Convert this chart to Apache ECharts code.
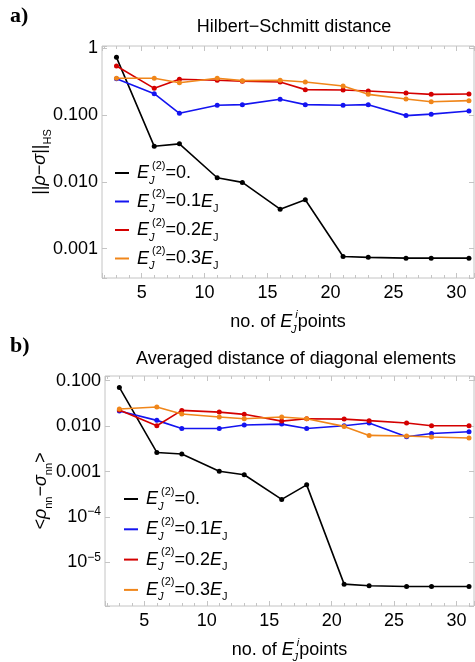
<!DOCTYPE html>
<html>
<head>
<meta charset="utf-8">
<script src="https://cdn.jsdelivr.net/npm/echarts@6/dist/echarts.min.js"></script>
<style>
  html, body { margin: 0; padding: 0; background: #fff; }
  #chart { width: 475px; height: 662px; }
</style>
</head>
<body>
<div id="chart"></div>
<script>
// number of E_J^i points
var xs = [3, 6, 8, 11, 13, 16, 18, 21, 23, 26, 28, 31];

// a) Hilbert-Schmitt distance
var hs0 = [0.73, 0.034, 0.037, 0.0115, 0.0098, 0.0039, 0.0054, 0.00076, 0.00074, 0.00072, 0.00072, 0.00072];
var hs1 = [0.35, 0.209, 0.106, 0.14, 0.143, 0.172, 0.143, 0.14, 0.143, 0.098, 0.103, 0.115];
var hs2 = [0.543, 0.251, 0.343, 0.331, 0.32, 0.313, 0.24, 0.237, 0.229, 0.214, 0.204, 0.206];
var hs3 = [0.355, 0.355, 0.305, 0.355, 0.327, 0.331, 0.313, 0.272, 0.204, 0.174, 0.158, 0.164];

// b) averaged distance of diagonal elements
var diag0 = [0.071, 0.00264, 0.00243, 0.00102, 0.00085, 0.000244, 0.00051, 3.33e-6, 3.06e-6, 2.95e-6, 2.95e-6, 2.95e-6];
var diag1 = [0.0215, 0.0134, 0.0089, 0.0089, 0.0106, 0.0111, 0.0089, 0.0102, 0.0117, 0.00585, 0.0069, 0.00753];
var diag2 = [0.0226, 0.0102, 0.0222, 0.0204, 0.0182, 0.0129, 0.0146, 0.0143, 0.0132, 0.0117, 0.0102, 0.0102];
var diag3 = [0.0238, 0.0263, 0.0185, 0.0159, 0.0146, 0.0159, 0.0146, 0.00987, 0.00625, 0.00605, 0.00575, 0.00547];

// legend values of E_J^(2)
var levels = ['0.', '0.1', '0.2', '0.3'];
var colors = ['#000000', '#1414f0', '#d40000', '#f0861a'];

// y tick labels
var topTicks = [1, 0.1, 0.01, 0.001];
var topTickLabels = ['1', '0.100', '0.010', '0.001'];
var botTicks = [0.1, 0.01, 0.001, 1e-4, 1e-5];
var botTickLabels = ['0.100', '0.010', '0.001', '10{sup|\u22124}', '10{sup|\u22125}'];

var font = 'Liberation Sans, Arial, sans-serif';
var frameColor = '#c4c4c4';

var rich = {
	i: { fontStyle: 'italic', fontSize: 18, fontFamily: font, color: '#000', lineHeight: 26 },
	subJ: { fontStyle: 'italic', fontSize: 11, fontFamily: font, color: '#000', verticalAlign: 'bottom', lineHeight: 24, width: 3 },
	sub: { fontSize: 11, fontFamily: font, color: '#000', verticalAlign: 'bottom', lineHeight: 24 },
	sup: { fontSize: 11, fontFamily: font, color: '#000', verticalAlign: 'top', lineHeight: 26 },
	supi: { fontStyle: 'italic', fontSize: 11, fontFamily: font, color: '#000', verticalAlign: 'top', lineHeight: 26 },
	n: { fontSize: 18, fontFamily: font, color: '#000', lineHeight: 26 }
};

function legendName(k) {
	return 'E' + levels[k];
}

function legendText(name) {
	var k = levels.indexOf(name.slice(1));
	var s = '{i|E}{subJ|J}{sup|(2)}{n|=' + levels[k];
	if (k > 0) return s + '}{i|E}{sub|J}';
	return s + '}';
}

function tickFormatter(ticks, labels) {
	return function(v) {
		for (var i = 0; i < ticks.length; i++) {
			if (Math.abs(v - ticks[i]) / ticks[i] < 1e-6) return labels[i];
		}
		return '';
	};
}

function xAxes(gridIndex) {
	return [{
		gridIndex: gridIndex,
		type: 'value',
		min: 1.85,
		max: 31.4,
		splitNumber: 6,
		axisLine: { show: false },
		axisTick: { inside: true, length: 5, lineStyle: { color: frameColor } },
		minorTick: { show: true, splitNumber: 5, length: 3, lineStyle: { color: frameColor } },
		splitLine: { show: false },
		axisLabel: {
			fontSize: 18, fontFamily: font, color: '#000', margin: 6,
			showMinLabel: false, showMaxLabel: false
		},
		name: 'no. of {i|E}{subJ|J}{supi|i}{n|points}',
		nameLocation: 'middle',
		nameGap: 31,
		nameMoveOverlap: false,
		nameTextStyle: { fontSize: 18, fontFamily: font, color: '#000', rich: rich }
	}, {
		gridIndex: gridIndex,
		type: 'value',
		position: 'top',
		min: 1.85,
		max: 31.4,
		splitNumber: 6,
		axisLine: { show: false },
		axisTick: { inside: true, length: 5, lineStyle: { color: frameColor } },
		minorTick: { show: true, splitNumber: 5, length: 3, lineStyle: { color: frameColor } },
		splitLine: { show: false },
		axisLabel: { show: false }
	}];
}

function yAxes(gridIndex, min, max, ticks, labels, name, gap) {
	return [{
		gridIndex: gridIndex,
		type: 'log',
		logBase: 10,
		min: min,
		max: max,
		axisLine: { show: false },
		axisTick: { inside: true, length: 5, lineStyle: { color: frameColor } },
		splitLine: { show: false },
		axisLabel: {
			fontSize: 18, fontFamily: font, color: '#000', margin: 4,
			formatter: tickFormatter(ticks, labels),
			rich: { sup: { fontSize: 12, fontFamily: font, color: '#000', verticalAlign: 'top', lineHeight: 22 } }
		},
		name: name,
		nameLocation: 'middle',
		nameGap: gap,
		nameRotate: 90,
		nameMoveOverlap: false,
		nameTextStyle: { fontSize: 18, fontFamily: font, color: '#000', rich: rich }
	}, {
		gridIndex: gridIndex,
		type: 'log',
		logBase: 10,
		position: 'right',
		min: min,
		max: max,
		axisLine: { show: false },
		axisTick: { inside: true, length: 5, lineStyle: { color: frameColor } },
		splitLine: { show: false },
		axisLabel: { show: false }
	}];
}

function makeSeries(data, k, xi, yi) {
	return {
		name: legendName(k),
		type: 'line',
		xAxisIndex: xi,
		yAxisIndex: yi,
		data: xs.map(function(x, i) { return [x, data[i]]; }),
		symbol: 'circle',
		symbolSize: 5,
		lineStyle: { width: 1.6, color: colors[k] },
		itemStyle: { color: colors[k] },
		z: 2 + k
	};
}

function legendBox(left, top, gap) {
	return {
		orient: 'vertical',
		left: left,
		top: top,
		icon: 'rect',
		itemWidth: 14,
		itemHeight: 2,
		itemGap: gap,
		data: levels.map(function(l, k) { return legendName(k); }),
		formatter: legendText,
		textStyle: { fontSize: 18, fontFamily: font, color: '#000', padding: [0, 0, 0, 3], rich: rich }
	};
}

var chart = echarts.init(document.getElementById('chart'));
chart.setOption({
	animation: false,
	title: [
		{ text: 'a)', left: 5, top: 0, textStyle: { fontFamily: 'Liberation Serif', fontWeight: 'bold', fontSize: 22, color: '#000' } },
		{ text: 'Hilbert\u2212Schmitt distance', left: 289, top: 13, textAlign: 'center', textStyle: { fontFamily: font, fontWeight: 'normal', fontSize: 18, color: '#000' } },
		{ text: 'b)', left: 5, top: 330, textStyle: { fontFamily: 'Liberation Serif', fontWeight: 'bold', fontSize: 22, color: '#000' } },
		{ text: 'Averaged distance of diagonal elements', left: 291, top: 345, textAlign: 'center', textStyle: { fontFamily: font, fontWeight: 'normal', fontSize: 18, color: '#000' } }
	],
	grid: [
		{ left: 102, top: 46, right: 1, bottom: 384, outerBoundsMode: 'none', show: true, borderColor: frameColor, borderWidth: 1 },
		{ left: 105, top: 376, right: 1, bottom: 56, outerBoundsMode: 'none', show: true, borderColor: frameColor, borderWidth: 1 }
	],
	legend: [legendBox(110, 155, 2.5), legendBox(119, 481, 4.3)],
	xAxis: xAxes(0).concat(xAxes(1)),
	yAxis: yAxes(0, 0.000363, 1.08, topTicks, topTickLabels, '{n|||}{i|\u03c1}{n|\u2212}{i|\u03c3}{n|||}{sub|HS}', 49)
		.concat(yAxes(1, 1.1e-6, 0.127, botTicks, botTickLabels, '{n|<}{i|\u03c1}{sub|nn}{n|\u2212}{i|\u03c3}{sub|nn}{n|>}', 51)),
	series: [
		makeSeries(hs0, 0, 0, 0),
		makeSeries(hs1, 1, 0, 0),
		makeSeries(hs2, 2, 0, 0),
		makeSeries(hs3, 3, 0, 0),
		makeSeries(diag0, 0, 2, 2),
		makeSeries(diag1, 1, 2, 2),
		makeSeries(diag2, 2, 2, 2),
		makeSeries(diag3, 3, 2, 2)
	]
});
</script>
</body>
</html>
